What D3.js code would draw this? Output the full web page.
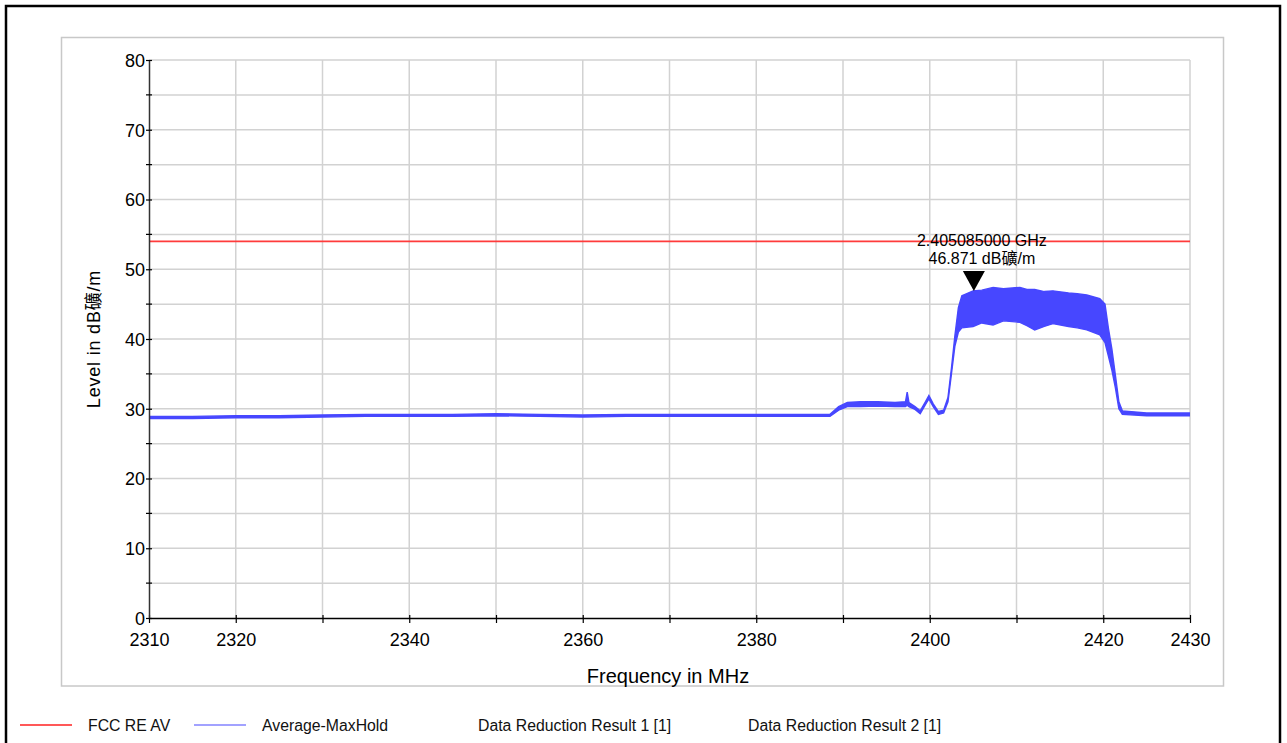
<!DOCTYPE html>
<html>
<head>
<meta charset="utf-8">
<script src="https://cdn.jsdelivr.net/npm/d3@7"></script>
<style>
  html, body { margin: 0; padding: 0; background: #fff; }
  svg { display: block; font-family: "Liberation Sans", Arial, "Noto Sans CJK SC", sans-serif; }
</style>
</head>
<body>
<svg id="chart" width="1287" height="743"></svg>
<script>
// ---- data ----
const xTicks = [2310, 2320, 2330, 2340, 2350, 2360, 2370, 2380, 2390, 2400, 2410, 2420, 2430];
const xTickLabels = ["2310", "2320", "", "2340", "", "2360", "", "2380", "", "2400", "", "2420", "2430"];
const yTicks = [0, 10, 20, 30, 40, 50, 60, 70, 80];
const yMinorTicks = [5, 15, 25, 35, 45, 55, 65, 75];

// Average-MaxHold trace, read as lower / upper envelope of the drawn trace
const traceFreqs = [2310, 2315, 2320, 2325, 2330, 2335, 2340, 2345, 2350, 2355, 2360, 2365, 2370, 2375, 2380, 2385, 2388.5,
  2389.5, 2390.5, 2392, 2394, 2396, 2397.2, 2397.4, 2397.6, 2398.3, 2398.9, 2399.5, 2399.9, 2400.4, 2401.0, 2401.6,
  2402.1, 2402.5, 2402.9, 2403.3, 2403.7, 2405, 2406, 2407.3, 2408.5, 2410.4, 2411.2, 2412.1, 2413.2, 2414.2, 2416, 2417, 2418.1, 2419.6, 2420.2, 2420.6,
  2421.0, 2421.4, 2421.8, 2422.2, 2425, 2430];
const traceLow = [28.6, 28.6, 28.7, 28.7, 28.8, 28.9, 28.9, 28.9, 29.0, 28.9, 28.8, 28.9, 28.9, 28.9, 28.9, 28.9, 28.9,
  29.8, 30.3, 30.3, 30.4, 30.3, 30.3, 30.5, 30.3, 29.9, 29.3, 30.6, 31.4, 30.3, 29.2, 29.4,
  31.0, 35.0, 39.0, 41.0, 41.6, 41.8, 42.3, 42.0, 42.6, 42.4, 41.9, 41.3, 41.8, 42.2, 41.8, 41.6, 41.3, 40.6, 39.5, 37.5,
  35.5, 33.0, 30.0, 29.2, 29.0, 29.0];
const traceHigh = [28.9, 28.9, 29.0, 29.0, 29.1, 29.2, 29.2, 29.2, 29.3, 29.2, 29.1, 29.2, 29.2, 29.2, 29.2, 29.2, 29.2,
  30.3, 30.9, 31.0, 31.0, 30.9, 31.0, 32.4, 30.9, 30.3, 29.7, 31.0, 31.9, 30.7, 29.6, 29.8,
  31.6, 35.8, 40.5, 44.5, 46.2, 46.9, 47.0, 47.4, 47.2, 47.4, 47.1, 47.1, 46.8, 46.9, 46.6, 46.5, 46.3, 45.8, 45.0, 41.5,
  38.5, 34.8, 31.0, 29.7, 29.4, 29.4];

// FCC RE AV limit line
const limitFreqs = [2310, 2430];
const limitLevels = [54, 54];

// marker
const markerFreq = 2405.085;
const markerLevel = 46.871;
const markerLines = ["2.405085000 GHz", "46.871 dB礦/m"];

const legendNames = ["FCC RE AV", "Average-MaxHold", "Data Reduction Result 1 [1]", "Data Reduction Result 2 [1]"];

// ---- drawing ----
const svg = d3.select("#chart");
const BLUE = "#4747ff", RED = "#ff3b3b";
const FONT = "'Liberation Sans', Arial, 'Noto Sans CJK SC', sans-serif";

// outer frame
svg.append("rect").attr("x", 6).attr("y", 6).attr("width", 1274).attr("height", 760)
  .attr("fill", "none").attr("stroke", "#000").attr("stroke-width", 2.5);
// panel
svg.append("rect").attr("x", 61.5).attr("y", 37.5).attr("width", 1162).attr("height", 648.5)
  .attr("fill", "none").attr("stroke", "#c8c8c8").attr("stroke-width", 1.5);

const x = d3.scaleLinear().domain([2310, 2430]).range([149, 1190]);
const y = d3.scaleLinear().domain([0, 80]).range([618, 60]);

const g = svg.append("g");
// grid
g.selectAll(".vg").data(xTicks.slice(1)).join("line")
  .attr("x1", d => x(d)).attr("x2", d => x(d)).attr("y1", y(80)).attr("y2", y(0))
  .attr("stroke", "#d2d2d2").attr("stroke-width", 1.5);
g.selectAll(".hg").data(yTicks.concat(yMinorTicks).filter(d => d > 0)).join("line")
  .attr("x1", x(2310)).attr("x2", x(2430)).attr("y1", d => y(d)).attr("y2", d => y(d))
  .attr("stroke", "#d2d2d2").attr("stroke-width", 1.5);

// limit line
const limitLine = d3.line().x((d, i) => x(limitFreqs[i])).y(d => y(d));
g.append("path").datum(limitLevels).attr("d", limitLine)
  .attr("fill", "none").attr("stroke", RED).attr("stroke-width", 1.6);

// trace
const idx = d3.range(traceFreqs.length);
const area = d3.area().x(i => x(traceFreqs[i])).y0(i => y(traceLow[i])).y1(i => y(traceHigh[i]));
g.append("path").datum(idx).attr("d", area).attr("fill", BLUE).attr("stroke", "none");
const lineHi = d3.line().x(i => x(traceFreqs[i])).y(i => y(traceHigh[i]));
const lineLo = d3.line().x(i => x(traceFreqs[i])).y(i => y(traceLow[i]));
g.append("path").datum(idx).attr("d", lineHi).attr("fill", "none").attr("stroke", BLUE).attr("stroke-width", 1.4);
g.append("path").datum(idx).attr("d", lineLo).attr("fill", "none").attr("stroke", BLUE).attr("stroke-width", 1.4);

// axes
const xAxis = d3.axisBottom(x).tickValues(xTicks).tickFormat((d, i) => xTickLabels[i]).tickSize(5).tickSizeOuter(0);
const xg = svg.append("g").attr("transform", `translate(0,${y(0)})`).call(xAxis);
xg.select(".domain").attr("stroke", "#000").attr("stroke-width", 1.5);
xg.selectAll(".tick line").attr("stroke", "#000").attr("stroke-width", 1.2).attr("y1", -3).attr("y2", 5);
xg.selectAll(".tick text").attr("font-size", 18).attr("fill", "#000").attr("dy", "1.1em")
  .attr("font-family", FONT);

const yAxis = d3.axisLeft(y).tickValues(yTicks).tickSize(3).tickSizeOuter(0);
const yg = svg.append("g").attr("transform", `translate(${x(2310)},0)`).call(yAxis);
yg.select(".domain").attr("stroke", "#333").attr("stroke-width", 1.5);
yg.selectAll(".tick line").attr("stroke", "#000").attr("stroke-width", 1.2).attr("x1", 3).attr("x2", -3);
yg.selectAll(".tick text").attr("font-size", 18).attr("fill", "#000").attr("x", -4).attr("dy", "0.36em")
  .attr("font-family", FONT);
yg.selectAll(".minor").data(yMinorTicks).join("line").attr("class", "minor")
  .attr("x1", -3).attr("x2", 3).attr("y1", d => y(d)).attr("y2", d => y(d))
  .attr("stroke", "#000").attr("stroke-width", 1.2);

// axis titles
svg.append("text").attr("x", 668).attr("y", 683).attr("text-anchor", "middle")
  .attr("font-size", 20).attr("fill", "#000").text("Frequency in MHz");
svg.append("text").attr("transform", "translate(100,339) rotate(-90)").attr("text-anchor", "middle")
  .attr("font-size", 18).attr("letter-spacing", 0.8).attr("fill", "#000").text("Level in dB礦/m");

// marker
const mx = x(markerFreq), my = y(markerLevel);
svg.append("path").attr("d", `M${mx},${my} L${mx - 11},${my - 20} L${mx + 11},${my - 20} Z`).attr("fill", "#000");
svg.selectAll(".mtext").data(markerLines).join("text").attr("class", "mtext")
  .attr("x", mx + 8).attr("y", (d, i) => 246 + i * 18).attr("text-anchor", "middle")
  .attr("font-size", 16).attr("fill", "#000").text(d => d);

// legend
const legendX = [20, 194, 478, 748];
const legendColors = [RED, BLUE, null, null];
legendNames.forEach((name, i) => {
  if (legendColors[i]) {
    svg.append("line").attr("x1", legendX[i]).attr("x2", legendX[i] + 52).attr("y1", 725).attr("y2", 725)
      .attr("stroke", legendColors[i]).attr("stroke-width", i === 0 ? 2 : 1.2).attr("opacity", i === 0 ? 0.85 : 1);
    svg.append("text").attr("x", legendX[i] + 68).attr("y", 731).attr("font-size", 15.8).attr("fill", "#111").text(name);
  } else {
    svg.append("text").attr("x", legendX[i]).attr("y", 731).attr("font-size", 15.8).attr("fill", "#111").text(name);
  }
});
</script>
</body>
</html>
